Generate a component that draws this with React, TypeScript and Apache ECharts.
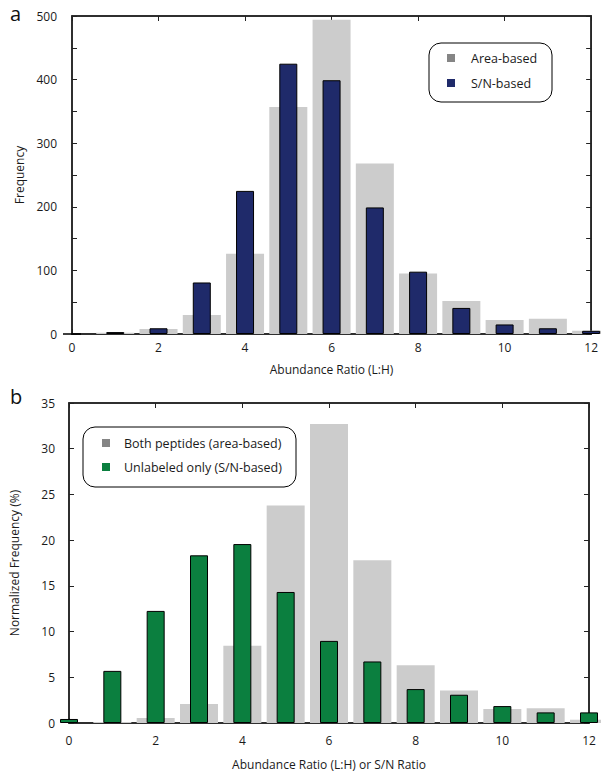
import React, { useEffect, useRef } from "react";
import * as echarts from "echarts";

const ratios = [0, 1, 2, 3, 4, 5, 6, 7, 8, 9, 10, 11, 12];
const areaBasedA = [0, 2, 8, 30, 126, 357, 494, 268, 95, 52, 22, 24, 5];
const snBasedA = [0, 3, 9, 81, 225, 425, 399, 199, 98, 41, 15, 9, 5];
const bothPeptidesB = [0, 0.1, 0.55, 2.07, 8.44, 23.8, 32.7, 17.8, 6.33, 3.56, 1.53, 1.6, 0.36];
const unlabeledB = [0.44, 5.7, 12.26, 18.34, 19.57, 14.33, 8.98, 6.73, 3.71, 3.09, 1.85, 1.16, 1.16];
const xTicks = [0, 2, 4, 6, 8, 10, 12];
const legendA = ["Area-based", "S/N-based"];
const legendB = ["Both peptides (area-based)", "Unlabeled only (S/N-based)"];

const FONT = "'Open Sans', sans-serif";
const GRAY = "#cccccc";
const NAVY = "#1f2a6a";
const GREEN = "#0b7f3f";
const MARK_GRAY = "#858585";
const TXT = "#1a1a1a";
const FRAME = "#222222";

const pairs = (vals: number[]) => ratios.map((r, i) => [r, vals[i]]);

export default function App() {
  const ref = useRef<HTMLDivElement>(null);
  useEffect(() => {
    document.body.style.margin = "0";
    const chart = echarts.init(ref.current!, null, { renderer: "svg" });
    const mkLine = () => ({ show: true, onZero: false, lineStyle: { color: FRAME, width: 1.5 } });
    const mkTick = () => ({ show: true, inside: true, length: 5, lineStyle: { color: FRAME, width: 1 } });
    const tickLbl = { color: TXT, fontFamily: FONT, fontSize: 12 };
    const nameStyle = { color: TXT, fontFamily: FONT, fontSize: 12 };
    const grids = [
      { left: 72, right: 8, top: 16, height: 318, show: true, borderColor: FRAME, borderWidth: 1.5, backgroundColor: "transparent" },
      { left: 68, right: 12, top: 403, height: 320, show: true, borderColor: FRAME, borderWidth: 1.5, backgroundColor: "transparent" },
    ];
    const xBottom = (gi: number, name: string, margin: number, gap: number) => ({
      type: "value",
      gridIndex: gi,
      position: "bottom",
      min: 0,
      max: 12,
      interval: 2,
      name,
      nameLocation: "middle",
      nameGap: gap,
      nameTextStyle: { ...nameStyle },
      axisLine: mkLine(),
      axisTick: mkTick(),
      axisLabel: { ...tickLbl, margin, formatter: (v: number) => (xTicks.includes(v) ? String(v) : "") },
      splitLine: { show: false },
    });
    const xTop = (gi: number) => ({
      type: "value",
      gridIndex: gi,
      position: "top",
      min: 0,
      max: 12,
      interval: 2,
      axisLine: mkLine(),
      axisTick: mkTick(),
      axisLabel: { show: false },
      splitLine: { show: false },
    });
    const yLeft = (gi: number, max: number, interval: number, minorSplit: number, name: string, gap: number, margin: number) => ({
      type: "value",
      gridIndex: gi,
      position: "left",
      min: 0,
      max,
      interval,
      name,
      nameLocation: "middle",
      nameGap: gap,
      nameTextStyle: { ...nameStyle },
      axisLine: mkLine(),
      axisTick: mkTick(),
      minorTick: { show: minorSplit > 1, splitNumber: minorSplit, length: 5, lineStyle: { color: FRAME, width: 1 } },
      axisLabel: { ...tickLbl, margin },
      splitLine: { show: false },
      minorSplitLine: { show: false },
    });
    const yRight = (gi: number, max: number, interval: number) => ({
      type: "value",
      gridIndex: gi,
      position: "right",
      min: 0,
      max,
      interval,
      axisLine: mkLine(),
      axisTick: mkTick(),
      axisLabel: { show: false },
      splitLine: { show: false },
    });

    const legendBox = (x: number, y: number, w: number, h: number, labels: string[], colors: string[], textX: number, markX: number, rowY: number[]) => ({
      type: "group",
      children: [
        { type: "rect", shape: { x, y, width: w, height: h, r: 12 }, style: { fill: "#fff", stroke: "#000", lineWidth: 1 }, z: 10 },
        ...labels.flatMap((lab, i) => [
          { type: "rect", shape: { x: markX - 4, y: rowY[i] - 4, width: 8, height: 8 }, style: { fill: colors[i] }, z: 11 },
          {
            type: "text",
            x: textX,
            y: rowY[i],
            style: { text: lab, fill: TXT, font: `12.5px ${FONT}`, verticalAlign: "middle" },
            z: 11,
          },
        ]),
      ],
    });

    chart.setOption({
      animation: false,
      grid: grids,
      xAxis: [
        xBottom(0, "Abundance Ratio (L:H)", 7, 29),
        xTop(0),
        xBottom(1, "Abundance Ratio (L:H) or S/N Ratio", 11, 35),
        xTop(1),
      ],
      yAxis: [
        yLeft(0, 500, 100, 2, "Frequency", 46, 15),
        yRight(0, 500, 50),
        yLeft(1, 35, 5, 0, "Normalized Frequency (%)", 49, 14),
        yRight(1, 35, 5),
      ],
      series: [
        { type: "bar", name: legendA[0], xAxisIndex: 0, yAxisIndex: 0, data: pairs(areaBasedA), barWidth: 38, itemStyle: { color: GRAY }, clip: true },
        { type: "bar", name: legendA[1], xAxisIndex: 1, yAxisIndex: 0, data: pairs(snBasedA), barWidth: 18, itemStyle: { color: NAVY, borderColor: "#000", borderWidth: 1 }, clip: true },
        { type: "bar", name: legendB[0], xAxisIndex: 2, yAxisIndex: 2, data: pairs(bothPeptidesB), barWidth: 38, itemStyle: { color: GRAY }, clip: true },
        { type: "bar", name: legendB[1], xAxisIndex: 3, yAxisIndex: 2, data: pairs(unlabeledB), barWidth: 18, itemStyle: { color: GREEN, borderColor: "#000", borderWidth: 1 }, clip: true },
      ],
      graphic: [
        { type: "text", left: 10, top: 3, style: { text: "a", fill: "#111", font: `20px ${FONT}` } },
        { type: "text", left: 10, top: 386, style: { text: "b", fill: "#111", font: `20px ${FONT}` } },
        legendBox(429, 43, 123, 59, legendA, [MARK_GRAY, NAVY], 471, 451, [58, 83]),
        legendBox(83, 427, 213, 60, legendB, [MARK_GRAY, GREEN], 124, 106, [443, 467]),
      ],
    });
    return () => chart.dispose();
  }, []);
  return <div ref={ref} style={{ width: 601, height: 776 }} />;
}
